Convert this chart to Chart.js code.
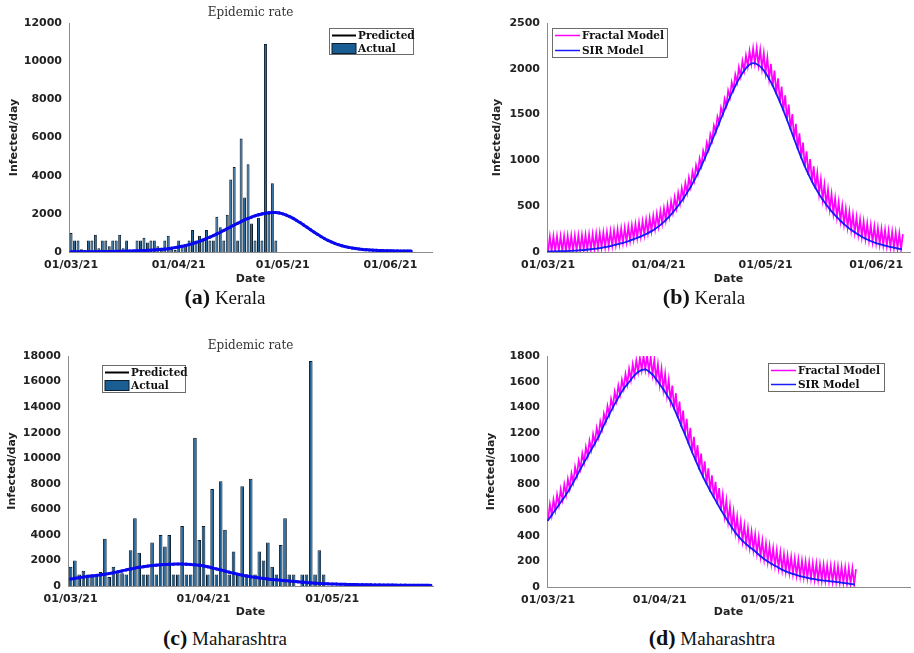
<!DOCTYPE html>
<html>
<head>
<meta charset="utf-8">
<title>Epidemic rate - Kerala and Maharashtra</title>
<script src="https://cdn.jsdelivr.net/npm/chart.js@4.4.1/dist/chart.umd.min.js"></script>
<style>
  body { margin: 0; background: #fff; }
  #page { position: relative; width: 914px; height: 653px; overflow: hidden; }
  canvas { position: absolute; }
  .cap { position: absolute; line-height: 24px; font-family: "Liberation Serif", "Times New Roman", serif;
         font-size: 19px; color: #111; white-space: nowrap; transform: translateX(-50%); }
  .cap b { font-size: 22px; }
</style>
</head>
<body>
<div id="page">
  <canvas id="chartA" width="450" height="289" style="left:0;top:0"></canvas>
  <canvas id="chartB" width="459" height="289" style="left:455px;top:0"></canvas>
  <canvas id="chartC" width="450" height="289" style="left:0;top:333px"></canvas>
  <canvas id="chartD" width="459" height="289" style="left:455px;top:333px"></canvas>
  <div class="cap" style="left:225px;top:285px"><b>(a)</b> Kerala</div>
  <div class="cap" style="left:704px;top:285px"><b>(b)</b> Kerala</div>
  <div class="cap" style="left:225px;top:626px"><b>(c)</b> Maharashtra</div>
  <div class="cap" style="left:712px;top:626px"><b>(d)</b> Maharashtra</div>
</div>
<script>
// x values are days counted from 01/03/21
var tickDays = [0, 31, 61, 92];
var tickLabels = ['01/03/21', '01/04/21', '01/05/21', '01/06/21'];

// --- Kerala, daily cases 01/03 - 29/04
var keralaActual = [1000, 600, 600, 150, 100, 600, 600, 900, 200, 600,
    600, 300, 600, 600, 900, 200, 600, 100, 100, 600,
    600, 750, 500, 600, 600, 300, 100, 600, 850, 200,
    100, 600, 300, 300, 600, 1150, 600, 850, 700, 1150,
    600, 600, 1850, 1300, 600, 1950, 3800, 4450, 600, 5950,
    2850, 4600, 1500, 600, 1800, 600, 10900, 2000, 3600, 600];
var keralaPredicted = [10, 10, 11, 12, 13, 14, 15, 17, 19, 21,
    23, 26, 29, 32, 36, 40, 45, 50, 56, 63,
    70, 78, 88, 98, 110, 123, 138, 155, 175, 200,
    230, 262, 298, 340, 388, 440, 498, 560, 628, 700,
    778, 860, 945, 1035, 1128, 1222, 1318, 1413, 1505, 1595,
    1680, 1760, 1832, 1895, 1950, 1995, 2035, 2060, 2075, 2070,
    2045, 2000, 1935, 1855, 1760, 1655, 1540, 1420, 1295, 1170,
    1045, 925, 810, 705, 610, 525, 450, 385, 330, 282,
    242, 208, 180, 156, 136, 120, 106, 95, 86, 78,
    72, 67, 62, 58, 55, 52, 50, 48, 46];

// --- Maharashtra, daily cases 01/03 - 29/04
var mahaActual = [1500, 2000, 900, 1200, 900, 900, 900, 1100, 3700, 700,
    1500, 1000, 1000, 900, 2800, 5300, 2600, 900, 900, 3400,
    900, 4000, 3100, 4000, 900, 900, 4700, 900, 900, 11600,
    3600, 4700, 900, 7600, 900, 8200, 4400, 900, 2700, 900,
    7800, 900, 8400, 900, 2700, 2000, 3400, 1500, 900, 3200,
    5300, 900, 900, 0, 900, 900, 17600, 900, 2800, 900];
var mahaPredicted = [550, 600, 650, 700, 750, 790, 830, 870, 920, 980,
    1040, 1110, 1180, 1260, 1330, 1400, 1460, 1510, 1560, 1600,
    1630, 1660, 1680, 1700, 1710, 1720, 1720, 1710, 1690, 1660,
    1620, 1570, 1500, 1420, 1340, 1260, 1170, 1080, 1000, 920,
    850, 790, 730, 680, 630, 590, 550, 510, 480, 450,
    420, 390, 360, 330, 300, 270, 245, 220, 200, 185,
    170, 158, 147, 137, 128, 120, 113, 106, 100, 95,
    90, 85, 81, 77, 73, 70, 67, 64, 61, 58,
    56, 54, 52, 50, 48];

// --- Kerala, SIR vs fractal model
var keralaSIR = [5, 6, 7, 8, 9, 10, 12, 14, 16, 19,
    22, 26, 30, 35, 40, 46, 53, 61, 70, 80,
    90, 100, 112, 125, 140, 155, 170, 187, 206, 228,
    252, 280, 312, 348, 388, 432, 480, 532, 588, 648,
    712, 782, 858, 940, 1028, 1120, 1215, 1312, 1410, 1505,
    1598, 1688, 1772, 1850, 1920, 1980, 2028, 2058, 2060, 2040,
    2005, 1955, 1890, 1815, 1730, 1640, 1545, 1445, 1340, 1235,
    1130, 1030, 935, 850, 770, 698, 632, 572, 518, 468,
    422, 380, 341, 305, 272, 242, 215, 190, 167, 147,
    128, 112, 98, 86, 75, 65, 56, 47, 39, 31];
var keralaFractal = [170, 171, 172, 173, 174, 175, 177, 179, 181, 184,
    187, 191, 195, 200, 205, 211, 218, 226, 235, 245,
    255, 265, 277, 290, 305, 320, 335, 352, 371, 393,
    417, 445, 477, 513, 553, 597, 645, 697, 753, 813,
    877, 947, 1023, 1105, 1193, 1285, 1380, 1477, 1575, 1670,
    1763, 1853, 1937, 2015, 2085, 2145, 2193, 2223, 2225, 2205,
    2170, 2120, 2055, 1980, 1895, 1805, 1710, 1610, 1505, 1400,
    1295, 1195, 1100, 1015, 935, 863, 797, 737, 683, 633,
    587, 545, 506, 470, 437, 407, 380, 355, 332, 312,
    293, 277, 263, 251, 240, 230, 221, 212, 204, 196];

// --- Maharashtra, SIR vs fractal model
var mahaSIR = [520, 560, 600, 640, 680, 720, 765, 815, 865, 920,
    970, 1020, 1070, 1120, 1170, 1230, 1290, 1345, 1400, 1450,
    1500, 1545, 1580, 1615, 1650, 1675, 1690, 1695, 1680, 1655,
    1620, 1580, 1540, 1495, 1450, 1390, 1325, 1255, 1190, 1120,
    1050, 985, 920, 860, 805, 750, 700, 650, 600, 555,
    510, 465, 425, 390, 360, 335, 310, 290, 265, 240,
    218, 198, 182, 166, 150, 135, 122, 112, 102, 93,
    85, 78, 72, 66, 61, 56, 52, 49, 46, 43,
    40, 36, 32, 28, 24, 20];
var mahaFractal = [645, 680, 720, 760, 800, 840, 885, 935, 985, 1040,
    1090, 1140, 1190, 1240, 1290, 1350, 1410, 1465, 1520, 1570,
    1615, 1660, 1700, 1735, 1765, 1785, 1800, 1805, 1790, 1770,
    1735, 1700, 1660, 1615, 1570, 1510, 1445, 1375, 1310, 1240,
    1170, 1105, 1040, 980, 925, 870, 820, 770, 720, 675,
    630, 585, 545, 510, 480, 455, 430, 410, 385, 360,
    338, 318, 302, 286, 270, 255, 242, 232, 222, 213,
    205, 198, 192, 186, 181, 176, 172, 169, 166, 163,
    160, 156, 152, 148, 144, 140];

var tickFont = { family: 'DejaVu Sans', size: 11, weight: 'bold' };
var barFill = '#195d93';
var barEdge = '#0a1e30';

function toPoints(values) {
    return values.map(function (v, i) { return { x: i, y: v }; });
}

// fractal curve drawn as a comb: down to the SIR value, up to the fractal value, each day
function comb(low, high) {
    var pts = [];
    low.forEach(function (v, i) {
        pts.push({ x: i, y: v });
        pts.push({ x: i + 0.5, y: high[i] });
    });
    return pts;
}

function axes(xMin, xMax, ticks, yMax, yStep, yWidth, xHeight) {
    return {
        x: {
            type: 'linear', min: xMin, max: xMax, offset: false,
            grid: { display: false, drawTicks: false },
            border: { color: '#8c8c8c' },
            afterBuildTicks: function (s) {
                s.ticks = ticks.map(function (d) { return { value: d }; });
            },
            ticks: {
                font: tickFont, color: '#222', padding: 7, maxRotation: 0, autoSkip: false,
                callback: function (v) { return tickLabels[tickDays.indexOf(v)]; }
            },
            title: { display: true, text: 'Date', font: tickFont, color: '#222', padding: { top: 0, bottom: 3 } },
            afterFit: function (s) { s.height = xHeight; }
        },
        y: {
            min: 0, max: yMax,
            grid: { display: false, drawTicks: false },
            border: { color: '#8c8c8c' },
            ticks: {
                stepSize: yStep, font: tickFont, color: '#222', padding: 7,
                callback: function (v) { return v; }
            },
            title: { display: true, text: 'Infected/day', font: tickFont, color: '#222', padding: { top: 4, bottom: 0 } },
            afterFit: function (s) { s.width = yWidth; }
        }
    };
}

// boxed legend inside the plot, like the matlab one
var boxLegend = {
    id: 'boxLegend',
    afterDraw: function (chart, args, o) {
        if (!o.items) return;
        var ctx = chart.ctx;
        ctx.save();
        ctx.fillStyle = '#fff';
        ctx.fillRect(o.x, o.y, o.w, o.h);
        ctx.strokeStyle = '#6b6b6b';
        ctx.lineWidth = 1;
        ctx.strokeRect(o.x + 0.5, o.y + 0.5, o.w, o.h);
        ctx.font = 'bold 10.5px "DejaVu Serif"';
        ctx.textBaseline = 'middle';
        var rowH = o.h / o.items.length;
        o.items.forEach(function (it, i) {
            var cy = Math.round(o.y + rowH * (i + 0.5)) + 0.5;
            var sx = o.x + 3;
            if (it.kind === 'box') {
                ctx.fillStyle = barFill;
                ctx.fillRect(sx, cy - 5, o.sample, 10);
                ctx.strokeStyle = barEdge;
                ctx.strokeRect(sx, cy - 5, o.sample, 10);
            } else {
                ctx.strokeStyle = it.color;
                ctx.lineWidth = it.width;
                ctx.beginPath();
                ctx.moveTo(sx, cy);
                ctx.lineTo(sx + o.sample, cy);
                ctx.stroke();
                ctx.lineWidth = 1;
            }
            ctx.fillStyle = '#111';
            ctx.fillText(chart.data.datasets[it.ds].label, sx + o.sample + 2, cy + 0.5);
        });
        ctx.restore();
    }
};

// panel title centred over the plot area
var panelTitle = {
    id: 'panelTitle',
    afterDraw: function (chart, args, o) {
        if (!o.text) return;
        var ctx = chart.ctx, a = chart.chartArea;
        ctx.save();
        ctx.font = '12px "DejaVu Serif"';
        ctx.fillStyle = '#333';
        ctx.textAlign = 'center';
        ctx.textBaseline = 'middle';
        ctx.fillText(o.text, (a.left + a.right) / 2, a.top - 10);
        ctx.restore();
    }
};

Chart.register(boxLegend, panelTitle);

function epidemicChart(id, actual, predicted, yMax, pad, xMax, ticks, yWidth, xHeight, legend) {
    new Chart(document.getElementById(id), {
        type: 'bar',
        data: {
            datasets: [{
                type: 'line', label: 'Predicted', order: 0,
                data: toPoints(predicted),
                borderColor: '#0a0af0', borderWidth: 3,
                pointRadius: 1.6, pointBackgroundColor: '#0a0af0', pointBorderWidth: 0,
                tension: 0.3
            }, {
                type: 'bar', label: 'Actual', order: 1,
                data: toPoints(actual),
                backgroundColor: barFill, borderColor: barEdge, borderWidth: 1,
                barPercentage: 0.85, categoryPercentage: 1
            }]
        },
        options: {
            responsive: false, animation: false,
            layout: { padding: pad },
            scales: axes(-0.6, xMax, ticks, yMax, 2000, yWidth, xHeight),
            plugins: {
                legend: { display: false }, tooltip: { enabled: false },
                panelTitle: { text: 'Epidemic rate' },
                boxLegend: legend
            }
        }
    });
}

function modelChart(id, sir, fractal, yMax, yStep, pad, xMax, ticks, yWidth, xHeight, legend) {
    new Chart(document.getElementById(id), {
        type: 'line',
        data: {
            datasets: [{
                label: 'Fractal Model', order: 1,
                data: comb(sir, fractal),
                borderColor: '#ff00ff', borderWidth: 1.7, pointRadius: 0, tension: 0
            }, {
                label: 'SIR Model', order: 0,
                data: toPoints(sir),
                borderColor: '#1a1aff', borderWidth: 1.8,
                pointRadius: 1, pointBackgroundColor: '#1a1aff', pointBorderWidth: 0,
                tension: 0.3
            }]
        },
        options: {
            responsive: false, animation: false,
            layout: { padding: pad },
            scales: axes(-0.3, xMax, ticks, yMax, yStep, yWidth, xHeight),
            plugins: {
                legend: { display: false }, tooltip: { enabled: false },
                boxLegend: legend
            }
        }
    });
}

epidemicChart('chartA', keralaActual, keralaPredicted, 12000,
    { top: 23, right: 18, left: 4, bottom: 0 }, 104, tickDays, 65, 37,
    { x: 329, y: 28, w: 84, h: 26, sample: 24, items: [
        { ds: 0, kind: 'line', color: '#000', width: 2 },
        { ds: 1, kind: 'box' }] });

epidemicChart('chartC', mahaActual, mahaPredicted, 18000,
    { top: 23, right: 17, left: 2, bottom: 0 }, 84.5, tickDays.slice(0, 3), 66, 36,
    { x: 102, y: 32, w: 83, h: 27, sample: 24, items: [
        { ds: 0, kind: 'line', color: '#000', width: 2 },
        { ds: 1, kind: 'box' }] });

modelChart('chartB', keralaSIR, keralaFractal, 2500, 500,
    { top: 23, right: 2, left: 32, bottom: 0 }, 101.5, tickDays, 60, 37,
    { x: 97, y: 28, w: 115, h: 29, sample: 25, items: [
        { ds: 0, kind: 'line', color: '#ff00ff', width: 1.5 },
        { ds: 1, kind: 'line', color: '#1a1aff', width: 1.5 }] });

modelChart('chartD', mahaSIR, mahaFractal, 1800, 200,
    { top: 23, right: 2, left: 26, bottom: 0 }, 100.5, tickDays.slice(0, 3), 66, 35,
    { x: 313, y: 30, w: 116, h: 28, sample: 25, items: [
        { ds: 0, kind: 'line', color: '#ff00ff', width: 1.5 },
        { ds: 1, kind: 'line', color: '#1a1aff', width: 1.5 }] });
</script>
</body>
</html>
